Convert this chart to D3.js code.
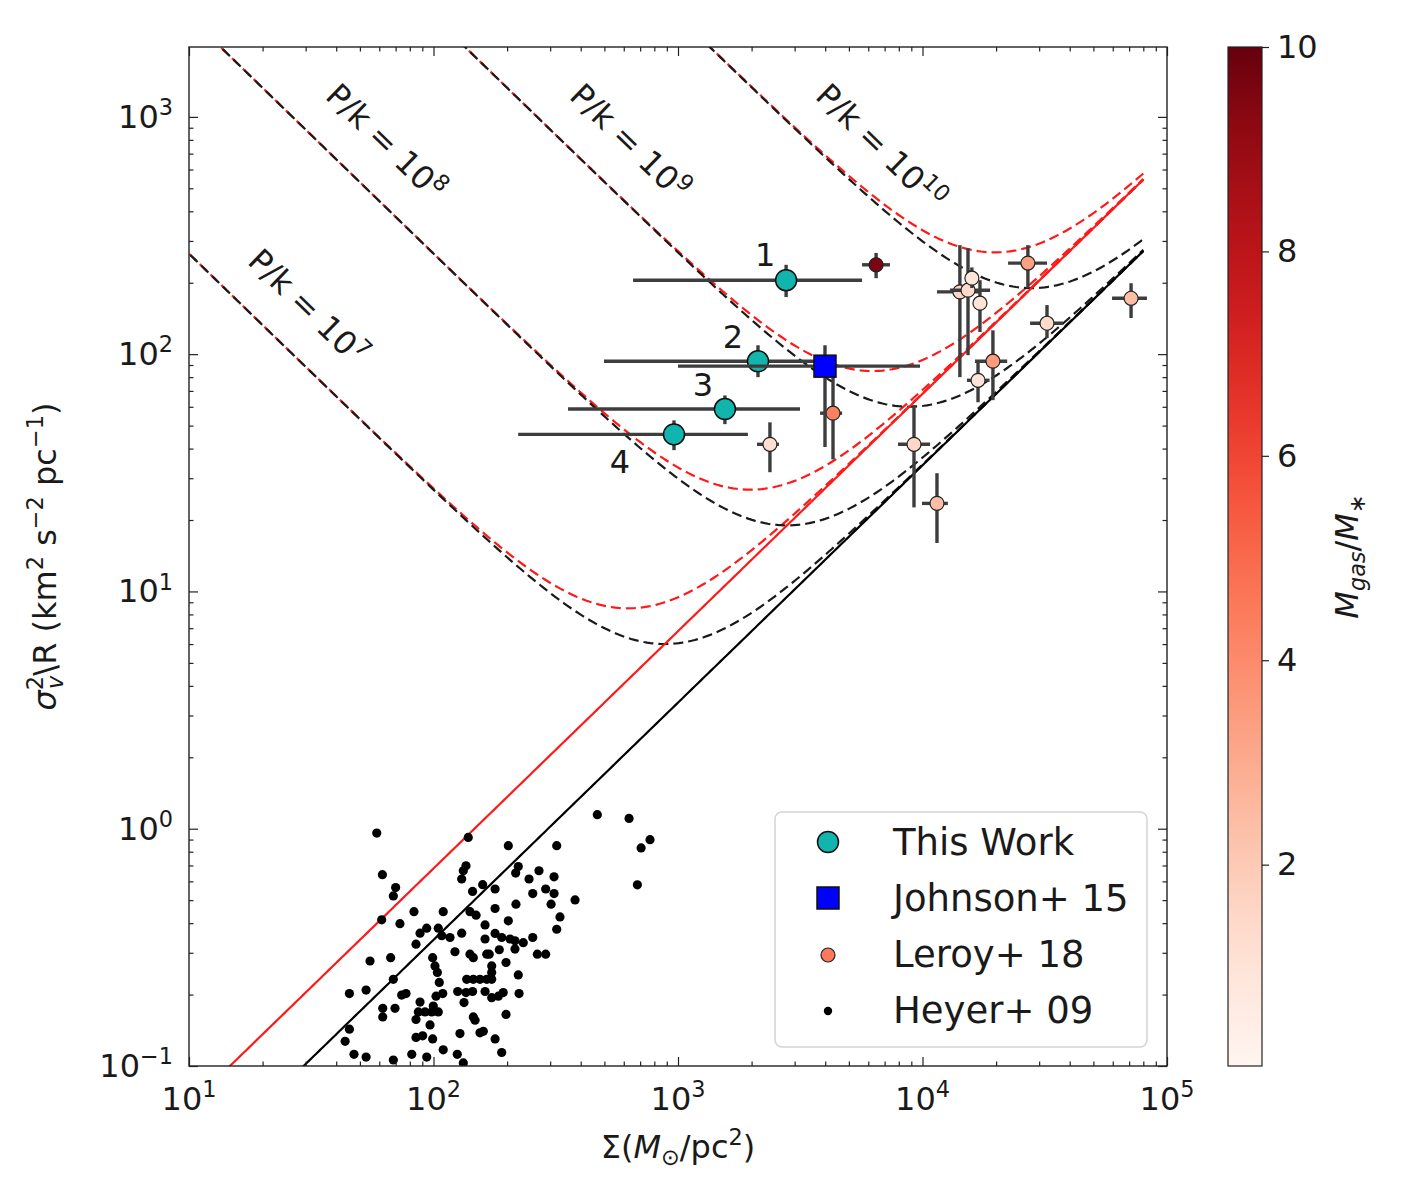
<!DOCTYPE html>
<html>
<head>
<meta charset="utf-8">
<script src="https://cdn.jsdelivr.net/npm/d3@7"></script>
<style>
  body { margin: 0; background: #fff; }
  text { font-family: "DejaVu Sans", sans-serif; fill: #1a1a1a; }
</style>
</head>
<body>
<svg id="chart" width="1406" height="1204"></svg>
<script>
// ---- data ----------------------------------------------------------------
// This Work (4 regions)
const workLabels   = ["1", "2", "3", "4"];
const workSigma    = [2768, 2124, 1556, 963];
const workSigmaLo  = [655, 498, 355, 222];
const workSigmaHi  = [5660, 3811, 3155, 1932];
const workSv       = [205, 93.3, 58.7, 45.9];
const workSvLo     = [174, 80, 50.7, 39.4];
const workSvHi     = [238, 109, 67, 52.6];

// Johnson+ 15
const johnsonSigma   = [3992];
const johnsonSigmaLo = [1000];
const johnsonSigmaHi = [9770];
const johnsonSv      = [89];
const johnsonSvLo    = [40.6];
const johnsonSvHi    = [109];

// Leroy+ 18, coloured by Mgas/M*
const leroySigma   = [6460, 4305, 2377, 9230, 11460, 14220, 15350, 15920, 17180, 19410, 16870, 26980, 32300, 71290];
const leroySigmaLo = [5660, 3811, 2104, 7940, 9950, 11460, 12950, 15000, 16200, 16400, 15200, 22390, 27540, 59600];
const leroySigmaHi = [7360, 4690, 2588, 10740, 12700, 17180, 18900, 16900, 18200, 22200, 18800, 32300, 37580, 82800];
const leroySv      = [238, 56.4, 41.7, 41.7, 23.5, 183, 186, 209, 164, 93.4, 77.6, 242, 135, 172];
const leroySvLo    = [209, 36, 31.8, 22.6, 16, 80, 99, 190, 124, 64, 62.7, 190, 117, 142];
const leroySvHi    = [267, 81.5, 51.6, 61, 31.5, 288, 280, 232, 205, 126, 94.4, 288, 161, 199];
const leroyRatio   = [9.6, 4.3, 1.2, 1.5, 2.4, 1.6, 1.4, 0.9, 1.0, 3.5, 1.0, 3.3, 1.4, 2.4];

// Heyer+ 09
const heyerSigma = [58.6,138.7,61.8,70.0,68.5,135.8,132.4,130.4,158.9,144.5,61.4,83.2,109.6,141.0,149.3,72.9,
  93.8,88.1,104.6,108.1,116.8,130.4,162.5,162.5,84.8,122.4,141.0,145.5,165.1,55.0,66.8,99.2,101.4,103.7,105.6,
  68.5,136.7,145.5,154.9,165.1,45.3,53.0,74.1,77.2,102.4,109.1,125.6,135.8,144.5,162.5,88.1,99.8,133.3,62.0,69.6,
  86.7,92.3,98.3,104.6,62.0,84.8,145.5,147.9,96.8,45.3,159.9,154.9,128.3,43.5,84.8,90.3,99.2,109.6,47.3,53.0,68.5,
  81.5,93.8,125.1,132.4,
  202.3,319.1,467.7,630.7,706.5,768.3,682.2,222.2,216.8,270.0,245.9,311.2,178.6,254.6,287.6,311.2,302.6,379.3,
  217.4,178.6,329.1,319.1,202.3,178.6,190.1,205.6,215.4,232.9,254.6,215.4,185.8,169.0,265.9,287.6,198.0,173.0,
  173.0,173.0,222.2,173.0,192.8,223.9,184.1,198.0,178.6,190.1];
const heyerSv = [0.959,0.919,0.640,0.565,0.521,0.698,0.665,0.614,0.581,0.544,0.413,0.447,0.447,0.447,0.432,0.398,
  0.381,0.363,0.381,0.354,0.348,0.363,0.393,0.343,0.326,0.303,0.296,0.286,0.296,0.277,0.286,0.286,0.264,0.248,0.225,
  0.232,0.232,0.232,0.232,0.232,0.202,0.209,0.199,0.202,0.197,0.202,0.206,0.204,0.206,0.206,0.186,0.179,0.185,0.175,0.175,
  0.169,0.169,0.169,0.169,0.161,0.157,0.161,0.156,0.149,0.143,0.140,0.138,0.137,0.127,0.132,0.134,0.130,0.117,0.112,0.109,0.106,
  0.112,0.109,0.112,0.103,
  0.848,0.848,1.146,1.105,0.830,0.899,0.580,0.693,0.650,0.665,0.614,0.627,0.557,0.533,0.557,0.533,0.481,0.501,
  0.481,0.461,0.425,0.377,0.409,0.362,0.348,0.343,0.337,0.331,0.348,0.311,0.309,0.296,0.296,0.296,0.273,0.264,
  0.248,0.232,0.242,0.194,0.204,0.202,0.197,0.165,0.130,0.114];

// model lines: sigma^2/R = a*Sigma + b*(P/k)/Sigma
const pressures   = [1e7, 1e8, 1e9, 1e10];
const pressureExp = ["7", "8", "9", "10"];
const virialBlack = 0.0034;
const virialRed   = 0.0068;
const pressureCoef = 2.65e-4;
const sigmaMax = 8e4;
// where the P/k labels sit (data coordinates)
const pkLabelSigma = [28.5, 59.3, 590, 6280];
const pkLabelSv    = [146, 726, 726, 691];

// axes / colorbar ticks
const xMajor = [1e1, 1e2, 1e3, 1e4, 1e5];
const xExp   = ["1", "2", "3", "4", "5"];
const yMajor = [1e-1, 1e0, 1e1, 1e2, 1e3];
const yExp   = ["\u22121", "0", "1", "2", "3"];
const cbTicks = [2, 4, 6, 8, 10];
const cbDomain = [0.03, 10];

const legendNames = ["This Work", "Johnson+ 15", "Leroy+ 18", "Heyer+ 09"];

// ---- layout --------------------------------------------------------------
const L = 189, R = 1167, T = 47, B = 1066;
const svg = d3.select("#chart");

const x = d3.scaleLog().domain([10, 1e5]).range([L, R]);
const y = d3.scaleLog().domain([0.1, 1970]).range([B, T]);
const color = d3.scaleSequential(d3.interpolateReds).domain(cbDomain);

const teal = "#12b5ae", barColor = "#3d3d3d";

svg.append("clipPath").attr("id", "clip")
  .append("rect").attr("x", L).attr("y", T).attr("width", R - L).attr("height", B - T);

const plot = svg.append("g").attr("clip-path", "url(#clip)");

// mathtext-ish helper
function mathText(sel, parts, size) {
  let shift = 0;
  parts.forEach(p => {
    const target = p.sup ? -0.4 * size : p.sub ? 0.22 * size : 0;
    const t = sel.append("tspan").text(p.t).attr("dy", target - shift);
    if (p.sup || p.sub) t.attr("font-size", size * 0.7);
    if (p.it) t.attr("font-style", "italic");
    if (p.dx) t.attr("dx", p.dx);
    shift = target;
  });
  return sel;
}

// ---- model curves --------------------------------------------------------
const grid = d3.range(0, 301).map(i => Math.pow(10, 1 + i * (Math.log10(sigmaMax) - 1) / 300));
const line = d3.line().x(d => x(d[0])).y(d => y(d[1]));

pressures.forEach(P => {
  plot.append("path")
    .attr("d", line(grid.map(s => [s, virialRed * s + pressureCoef * P / s])))
    .attr("fill", "none").attr("stroke", "#ff1a1a").attr("stroke-width", 2.2)
    .attr("stroke-dasharray", "10,5");
  plot.append("path")
    .attr("d", line(grid.map(s => [s, virialBlack * s + pressureCoef * P / s])))
    .attr("fill", "none").attr("stroke", "#1a1a1a").attr("stroke-width", 2.2)
    .attr("stroke-dasharray", "10,5").attr("stroke-dashoffset", -2);
});

plot.append("path")
  .attr("d", line(grid.map(s => [s, virialRed * s])))
  .attr("fill", "none").attr("stroke", "#ff1a1a").attr("stroke-width", 2.2);
plot.append("path")
  .attr("d", line(grid.map(s => [s, virialBlack * s])))
  .attr("fill", "none").attr("stroke", "#000").attr("stroke-width", 2.2);

// P/k labels
const ang = Math.atan2(y(0.1) - y(1), x(100) - x(10)) * 180 / Math.PI;
pressures.forEach((P, i) => {
  const t = svg.append("text")
    .attr("transform", `translate(${x(pkLabelSigma[i])},${y(pkLabelSv[i])}) rotate(${ang})`)
    .attr("text-anchor", "middle").attr("font-size", 32);
  const inner = t.append("tspan").attr("dy", "0.35em");
  mathText(inner, [{ t: "P/k = 10" }, { t: pressureExp[i], sup: true }], 32);
});

// ---- Heyer+09 --------------------------------------------------------------
plot.append("g").selectAll("circle")
  .data(heyerSigma.map((s, i) => [s, heyerSv[i]]))
  .join("circle")
  .attr("cx", d => x(d[0])).attr("cy", d => y(d[1])).attr("r", 4.6)
  .attr("fill", "#000");

// ---- error bar helper ----------------------------------------------------
function errBars(g, sig, sLo, sHi, sv, vLo, vHi) {
  sig.forEach((s, i) => {
    g.append("line").attr("x1", x(sLo[i])).attr("x2", x(sHi[i]))
      .attr("y1", y(sv[i])).attr("y2", y(sv[i]))
      .attr("stroke", barColor).attr("stroke-width", 3.4);
    g.append("line").attr("x1", x(s)).attr("x2", x(s))
      .attr("y1", y(vLo[i])).attr("y2", y(vHi[i]))
      .attr("stroke", barColor).attr("stroke-width", 3.4);
  });
}

// ---- Leroy+18 --------------------------------------------------------------
const gLeroy = plot.append("g");
leroySigma.forEach((s, i) => {
  errBars(gLeroy, [s], [leroySigmaLo[i]], [leroySigmaHi[i]], [leroySv[i]], [leroySvLo[i]], [leroySvHi[i]]);
  gLeroy.append("circle").attr("cx", x(s)).attr("cy", y(leroySv[i])).attr("r", 7)
    .attr("fill", color(leroyRatio[i])).attr("stroke", "#222").attr("stroke-width", 1.2);
});

// ---- This Work -------------------------------------------------------------
const gWork = plot.append("g");
errBars(gWork, workSigma, workSigmaLo, workSigmaHi, workSv, workSvLo, workSvHi);
gWork.selectAll("circle")
  .data(workSigma.map((s, i) => [s, workSv[i]]))
  .join("circle")
  .attr("cx", d => x(d[0])).attr("cy", d => y(d[1])).attr("r", 10.5)
  .attr("fill", teal).attr("stroke", "#111").attr("stroke-width", 1.5);

const labelOffsets = [[-21, -14], [-25, -13], [-22, -13], [-54, 39]];
workLabels.forEach((lab, i) => {
  svg.append("text")
    .attr("x", x(workSigma[i]) + labelOffsets[i][0])
    .attr("y", y(workSv[i]) + labelOffsets[i][1])
    .attr("text-anchor", "middle").attr("font-size", 32).text(lab);
});

// ---- Johnson+15 ------------------------------------------------------------
const gJohn = plot.append("g");
errBars(gJohn, johnsonSigma, johnsonSigmaLo, johnsonSigmaHi, johnsonSv, johnsonSvLo, johnsonSvHi);
gJohn.selectAll("rect")
  .data(johnsonSigma.map((s, i) => [s, johnsonSv[i]]))
  .join("rect")
  .attr("x", d => x(d[0]) - 11).attr("y", d => y(d[1]) - 11)
  .attr("width", 22).attr("height", 22)
  .attr("fill", "#0000ff").attr("stroke", "#111").attr("stroke-width", 1.5);

// ---- axes ------------------------------------------------------------------
const xMinor = [], yMinor = [];
[1e1, 1e2, 1e3, 1e4].forEach(d => d3.range(2, 10).forEach(k => xMinor.push(d * k)));
[1e-1, 1e0, 1e1, 1e2, 1e3].forEach(d => d3.range(2, 10).forEach(k => { if (d * k < 1970) yMinor.push(d * k); }));

function addAxis(axisFn, scale, vals, size, transform) {
  const g = svg.append("g").attr("transform", transform)
    .call(axisFn(scale).tickValues(vals).tickSize(-size).tickFormat(""));
  g.select(".domain").remove();
  g.selectAll(".tick line").attr("stroke", "#222").attr("stroke-width", 1.2);
}
addAxis(d3.axisBottom, x, xMajor, 9, `translate(0,${B})`);
addAxis(d3.axisBottom, x, xMinor, 4.5, `translate(0,${B})`);
addAxis(d3.axisTop, x, xMajor, 9, `translate(0,${T})`);
addAxis(d3.axisTop, x, xMinor, 4.5, `translate(0,${T})`);
addAxis(d3.axisLeft, y, yMajor, 9, `translate(${L},0)`);
addAxis(d3.axisLeft, y, yMinor, 4.5, `translate(${L},0)`);
addAxis(d3.axisRight, y, yMajor, 9, `translate(${R},0)`);
addAxis(d3.axisRight, y, yMinor, 4.5, `translate(${R},0)`);

svg.append("rect").attr("x", L).attr("y", T).attr("width", R - L).attr("height", B - T)
  .attr("fill", "none").attr("stroke", "#222").attr("stroke-width", 1.4);

xMajor.forEach((v, i) => {
  const t = svg.append("text").attr("x", x(v)).attr("y", 1110)
    .attr("text-anchor", "middle").attr("font-size", 32);
  mathText(t, [{ t: "10" }, { t: xExp[i], sup: true }], 32);
});
yMajor.forEach((v, i) => {
  const t = svg.append("text").attr("x", 173).attr("y", y(v) + 11)
    .attr("text-anchor", "end").attr("font-size", 32);
  mathText(t, [{ t: "10" }, { t: yExp[i], sup: true }], 32);
});

// axis titles
mathText(svg.append("text").attr("x", (L + R) / 2).attr("y", 1158)
  .attr("text-anchor", "middle").attr("font-size", 32),
  [{ t: "\u03A3(" }, { t: "M", it: true }, { t: "\u2299", sub: true }, { t: "/pc" }, { t: "2", sup: true }, { t: ")" }], 32);

mathText(svg.append("text")
  .attr("transform", `translate(56,${(T + B) / 2}) rotate(-90)`)
  .attr("text-anchor", "middle").attr("font-size", 32),
  [{ t: "\u03C3", it: true }, { t: "2", sup: true }, { t: "v", sub: true, it: true, dx: -13 },
   { t: "\\R (km" }, { t: "2", sup: true }, { t: " s" }, { t: "\u22122", sup: true },
   { t: " pc" }, { t: "\u22121", sup: true }, { t: ")" }], 32);

// ---- legend ----------------------------------------------------------------
const lg = svg.append("g");
lg.append("rect").attr("x", 775).attr("y", 812).attr("width", 372).attr("height", 235)
  .attr("rx", 7).attr("fill", "#fff").attr("fill-opacity", 0.85)
  .attr("stroke", "#d4d4d4").attr("stroke-width", 1.5);
legendNames.forEach((name, i) => {
  const cy = 842 + i * 56;
  if (i === 0) lg.append("circle").attr("cx", 828).attr("cy", cy).attr("r", 10.5)
    .attr("fill", teal).attr("stroke", "#111").attr("stroke-width", 1.5);
  if (i === 1) lg.append("rect").attr("x", 817).attr("y", cy - 11).attr("width", 22).attr("height", 22)
    .attr("fill", "#0000ff").attr("stroke", "#111").attr("stroke-width", 1.5);
  if (i === 2) lg.append("circle").attr("cx", 828).attr("cy", cy + 1).attr("r", 7)
    .attr("fill", color(4.5)).attr("stroke", "#222").attr("stroke-width", 1.2);
  if (i === 3) lg.append("circle").attr("cx", 828).attr("cy", cy + 1).attr("r", 4.2).attr("fill", "#000");
  lg.append("text").attr("x", 893).attr("y", cy).attr("dy", "0.36em")
    .attr("font-size", 37).text(name);
});

// ---- colorbar --------------------------------------------------------------
const cbX = 1228, cbW = 34;
const cy = d3.scaleLinear().domain(cbDomain).range([B, T]);
const grad = svg.append("defs").append("linearGradient").attr("id", "cbgrad")
  .attr("x1", 0).attr("y1", 1).attr("x2", 0).attr("y2", 0);
d3.range(0, 1.0001, 0.05).forEach(t => {
  grad.append("stop").attr("offset", t)
    .attr("stop-color", color(cbDomain[0] + t * (cbDomain[1] - cbDomain[0])));
});
svg.append("rect").attr("x", cbX).attr("y", T).attr("width", cbW).attr("height", B - T)
  .attr("fill", "url(#cbgrad)").attr("stroke", "#222").attr("stroke-width", 1.2);
const cbAxis = svg.append("g").attr("transform", `translate(${cbX + cbW},0)`)
  .call(d3.axisRight(cy).tickValues(cbTicks).tickSize(7).tickPadding(8).tickFormat(d3.format("d")));
cbAxis.select(".domain").remove();
cbAxis.selectAll(".tick line").attr("stroke", "#222").attr("stroke-width", 1.2);
cbAxis.selectAll(".tick text").attr("font-size", 32).attr("font-family", "DejaVu Sans").attr("fill", "#1a1a1a");

mathText(svg.append("text")
  .attr("transform", `translate(1358,${(T + B) / 2}) rotate(-90)`)
  .attr("text-anchor", "middle").attr("font-size", 32),
  [{ t: "M", it: true }, { t: "gas", sub: true, it: true }, { t: "/" }, { t: "M", it: true }, { t: "\u2217", sub: true }], 32);
</script>
</body>
</html>
